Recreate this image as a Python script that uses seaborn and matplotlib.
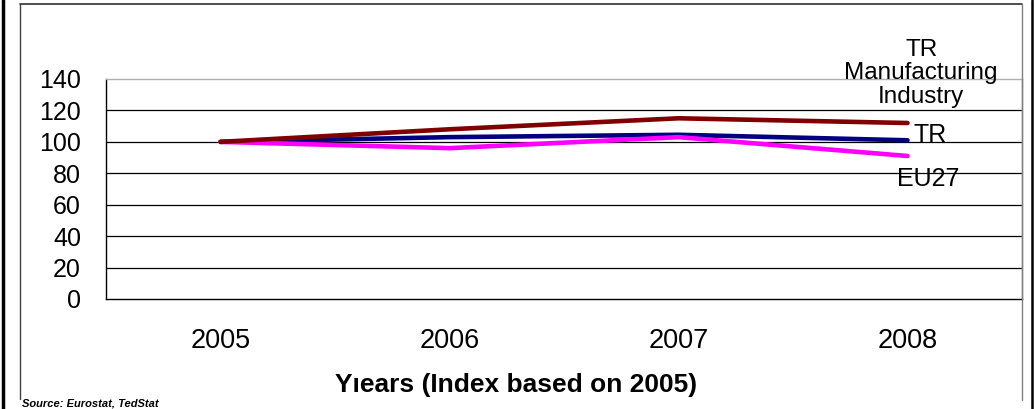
import pandas as pd
import matplotlib
matplotlib.use("Agg")
import matplotlib.pyplot as plt
from matplotlib.lines import Line2D
import seaborn as sns


years = ['2005', '2006', '2007', '2008']
tr_manufacturing = [100, 108, 115, 112]
tr_total = [100, 103, 104.5, 101]
eu27 = [100, 96, 103, 91]

series_names = ['TR', 'EU27', 'TR Manufacturing Industry']
series_colors = ['#000080', '#FF00FF', '#800000']
y_ticks = [0, 20, 40, 60, 80, 100, 120, 140]

rows = []
for name, vals in zip(series_names, [tr_total, eu27, tr_manufacturing]):
    for i, (yr, v) in enumerate(zip(years, vals)):
        rows.append({'pos': i, 'year': yr, 'value': v, 'series': name})
df = pd.DataFrame(rows)

sns.set_style("white")
plt.rcParams['font.family'] = ['Liberation Sans', 'DejaVu Sans']
plt.rcParams['text.color'] = 'black'
plt.rcParams['xtick.color'] = 'black'
plt.rcParams['ytick.color'] = 'black'
plt.rcParams['axes.labelcolor'] = 'black'

W, H = 1035, 409
fig = plt.figure(figsize=(W / 100, H / 100), dpi=100)
ax = fig.add_axes([106 / W, 1 - 299 / H, (1022 - 106) / W, (299 - 79) / H])

sns.lineplot(data=df, x='pos', y='value', hue='series', hue_order=series_names,
             palette=series_colors, linewidth=3.3, legend=False, ax=ax)

ax.set_xlim(-0.5, len(years) - 0.5)
ax.set_ylim(0, 140)
ax.set_yticks(y_ticks)
ax.set_yticklabels([str(t) for t in y_ticks], fontsize=18)
for t in y_ticks[1:-1]:
    ax.axhline(t, color='black', linewidth=0.9, zorder=0)

# category boundaries get the tick marks, labels sit in the middle
ax.set_xticks([i - 0.5 for i in range(len(years) + 1)])
ax.set_xticklabels([])
ax.set_xticks(range(len(years)), minor=True)
ax.set_xticklabels(years, minor=True, fontsize=19.5)
ax.tick_params(axis='x', which='major', direction='out', length=6, width=0.9, color='black')
ax.tick_params(axis='x', which='minor', length=0, pad=21)
ax.tick_params(axis='y', direction='out', length=6, width=0.9, color='black', pad=12)
ax.set_xlabel('')
ax.set_ylabel('')

ax.spines['left'].set_color('black')
ax.spines['bottom'].set_color('black')
ax.spines['top'].set_color('#b0b0b0')
ax.spines['right'].set_color('#808080')
for s in ax.spines.values():
    s.set_linewidth(1.0)

# series labels at the line ends
ax.text(3.06, 143.5, 'TR\nManufacturing\nIndustry', ha='center', va='center',
        fontsize=17.5, linespacing=1.1, clip_on=False)
ax.text(3.1, 104.5, 'TR', ha='center', va='center', fontsize=18)
ax.text(3.09, 76.5, 'EU27', ha='center', va='center', fontsize=18)

fig.text(516 / W, 1 - 385 / H, 'Y\u0131ears (Index based on 2005)', ha='center', va='center',
         fontsize=19, fontweight='bold')
fig.text(22 / W, 1 / H, 'Source: Eurostat, TedStat', ha='left', va='bottom',
         fontsize=8, fontweight='bold', fontstyle='italic')

# chart frame (cropped from a document page)
fig.add_artist(Line2D([2.5 / W, 2.5 / W], [0, 1], color='black', linewidth=2.5))
fig.add_artist(Line2D([1032 / W, 1032 / W], [0, 1], color='black', linewidth=1.8))
fig.add_artist(Line2D([20 / W, 1022 / W], [1 - 3.5 / H, 1 - 3.5 / H], color='#303030', linewidth=1.2))
fig.add_artist(Line2D([20 / W, 20 / W], [1 - 3.5 / H, 1 - 399 / H], color='#404040', linewidth=1.0))
fig.add_artist(Line2D([1022 / W, 1022 / W], [1 - 3.5 / H, 1 - 400 / H], color='#808080', linewidth=1.0))

fig.savefig('out.png', dpi=100)
